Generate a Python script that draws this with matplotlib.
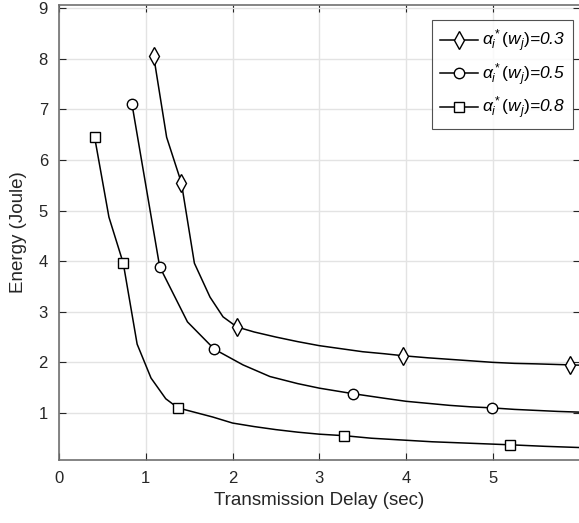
import numpy as np
import matplotlib
matplotlib.use("Agg")
import matplotlib.pyplot as plt

plt.rcParams['font.family'] = ['Liberation Sans', 'DejaVu Sans']
plt.rcParams['mathtext.fontset'] = 'custom'
plt.rcParams['mathtext.it'] = 'Liberation Sans:italic'
plt.rcParams['mathtext.rm'] = 'Liberation Sans'

# alpha = 0.3 (diamonds)
x_03 = [1.09, 1.24, 1.41, 1.56, 1.74, 1.89, 2.05, 2.25, 2.5, 2.75, 3.0, 3.25, 3.5, 3.75, 3.97,
        4.25, 4.5, 4.75, 5.0, 5.25, 5.5, 5.89, 6.1]
y_03 = [8.06, 6.45, 5.55, 3.96, 3.29, 2.90, 2.70, 2.60, 2.50, 2.41, 2.33, 2.27, 2.21, 2.17, 2.13,
        2.09, 2.06, 2.03, 2.00, 1.98, 1.97, 1.95, 1.94]
mk_03 = [0, 2, 6, 14, 21]

# alpha = 0.5 (circles)
x_05 = [0.84, 1.16, 1.48, 1.79, 2.12, 2.43, 2.75, 3.0, 3.39, 3.75, 4.0, 4.25, 4.5, 4.75, 4.99,
        5.25, 5.5, 5.75, 6.1]
y_05 = [7.11, 3.89, 2.80, 2.26, 1.95, 1.72, 1.58, 1.49, 1.38, 1.29, 1.23, 1.19, 1.15, 1.12, 1.10,
        1.07, 1.05, 1.03, 1.01]
mk_05 = [0, 1, 3, 8, 14]

# alpha = 0.8 (squares)
x_08 = [0.41, 0.575, 0.74, 0.90, 1.06, 1.23, 1.37, 1.77, 2.0, 2.25, 2.5, 2.75, 3.0, 3.29, 3.6,
        4.0, 4.3, 4.6, 4.9, 5.2, 5.6, 6.1]
y_08 = [6.45, 4.87, 3.96, 2.36, 1.69, 1.28, 1.10, 0.92, 0.80, 0.73, 0.67, 0.62, 0.58, 0.55, 0.50,
        0.46, 0.43, 0.41, 0.39, 0.37, 0.34, 0.31]
mk_08 = [0, 2, 6, 13, 19]

labels = [r'$\alpha_i^*(w_j)$=0.3', r'$\alpha_i^*(w_j)$=0.5', r'$\alpha_i^*(w_j)$=0.8']

fig = plt.figure(figsize=(5.79, 5.23), dpi=100)
ax = fig.add_axes([0.102, 0.1205, 0.899, 0.8695])

ax.plot(x_03, y_03, 'k-', marker='d', markevery=mk_03, markersize=9, mfc='white', mew=1.0, lw=1.1, label=labels[0])
ax.plot(x_05, y_05, 'k-', marker='o', markevery=mk_05, markersize=7.5, mfc='white', mew=1.0, lw=1.1, label=labels[1])
ax.plot(x_08, y_08, 'k-', marker='s', markevery=mk_08, markersize=6.5, mfc='white', mew=1.0, lw=1.1, label=labels[2])

ax.set_xlim(0, 6)
ax.set_ylim(0.07, 9.06)
ax.set_xticks([0, 1, 2, 3, 4, 5])
ax.set_yticks([1, 2, 3, 4, 5, 6, 7, 8, 9])
ax.grid(True, color='#e3e3e3', lw=1)
ax.set_axisbelow(True)
ax.tick_params(direction='in', top=True, right=True, length=5, colors='#262626', labelsize=12, pad=8)
for s in ax.spines.values():
    s.set_color('#707070')
    s.set_linewidth(1.2)

ax.set_xlabel('Transmission Delay (sec)', fontsize=13.5, color='#262626')
ax.set_ylabel('Energy (Joule)', fontsize=13.5, color='#262626', labelpad=8)

leg = ax.legend(loc='upper right', bbox_to_anchor=(573/579, 1 - 20/523),
                bbox_transform=fig.transFigure, borderaxespad=0,
                fancybox=False, edgecolor='#262626', handlelength=2.2,
                prop={'style': 'italic', 'size': 12.5}, labelspacing=0.4,
                borderpad=0.45, handletextpad=0.2)
leg.get_frame().set_linewidth(0.8)

fig.savefig('out.png', dpi=100)
